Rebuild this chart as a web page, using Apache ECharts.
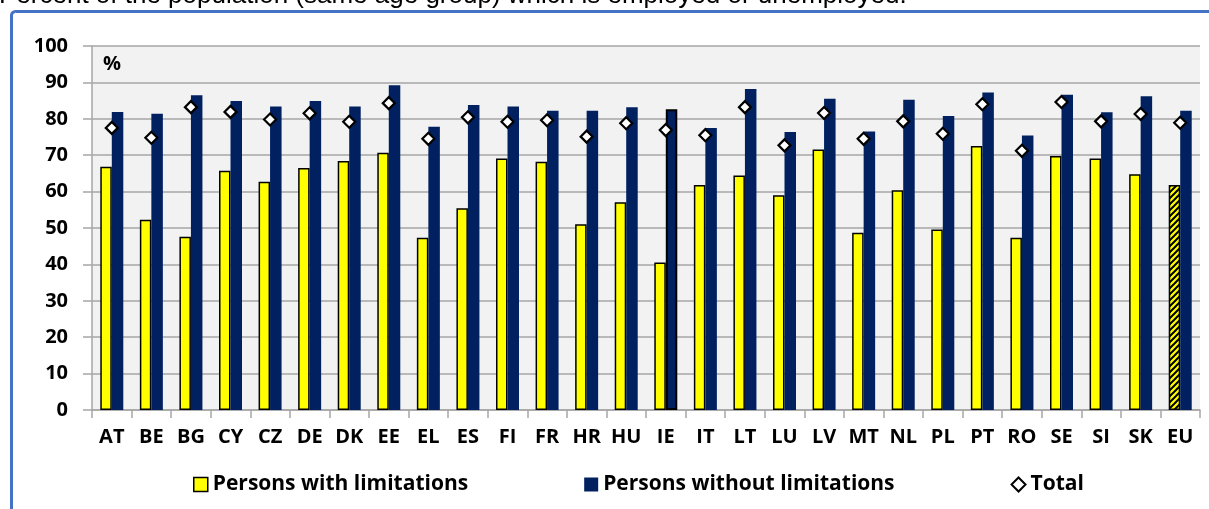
<!DOCTYPE html>
<html>
<head>
<meta charset="utf-8">
<script src="https://cdn.jsdelivr.net/npm/echarts@6/dist/echarts.min.js"></script>
<style>
html,body{margin:0;padding:0;background:#fff;}
#c{width:1209px;height:509px;}
</style>
</head>
<body>
<div id="c"></div>
<script>
const categories = ['AT','BE','BG','CY','CZ','DE','DK','EE','EL','ES','FI','FR','HR','HU','IE','IT','LT','LU','LV','MT','NL','PL','PT','RO','SE','SI','SK','EU'];
const withLimitations = [66.8,52.3,47.6,65.7,62.7,66.5,68.4,70.7,47.3,55.4,69.1,68.2,51.0,57.1,40.5,61.8,64.4,59.0,71.6,48.7,60.4,49.6,72.5,47.3,69.8,69.1,64.8,61.8];
const withoutLimitations = [81.9,81.4,86.5,84.9,83.4,84.9,83.4,89.2,77.8,83.8,83.4,82.2,82.2,83.2,82.6,77.5,88.2,76.4,85.5,76.5,85.2,80.8,87.2,75.4,86.6,81.8,86.2,82.2];
const totalValues = [77.5,74.8,83.2,81.9,79.8,81.5,79.2,84.3,74.5,80.4,79.2,79.6,75.1,78.8,76.9,75.5,83.2,72.7,81.6,74.5,79.3,75.9,84.0,71.2,84.6,79.3,81.3,78.9];
const yTicks = [0,10,20,30,40,50,60,70,80,90,100];
const seriesNames = ['Persons with limitations','Persons without limitations','Total'];
const titleText = 'Percent of the population (same age group) which is employed or unemployed.';
const unitLabel = '%';

const FONT = '"Open Sans", "DejaVu Sans", sans-serif';
const YELLOW = '#FFFF00', NAVY = '#002060';

// hatched pattern for EU bar
const pc = document.createElement('canvas');
pc.width = 6; pc.height = 6;
const g = pc.getContext('2d');
g.fillStyle = YELLOW; g.fillRect(0,0,6,6);
g.strokeStyle = '#000'; g.lineWidth = 2;
g.beginPath();
g.moveTo(-1,7); g.lineTo(7,-1);
g.moveTo(-4,4); g.lineTo(4,-4);
g.moveTo(2,10); g.lineTo(10,2);
g.stroke();

const yellowData = withLimitations.map((v,i) => categories[i] === 'EU'
  ? {value: v, itemStyle: {color: {image: pc, repeat: 'repeat'}}}
  : v);
const navyData = withoutLimitations.map((v,i) => categories[i] === 'IE'
  ? {value: v, itemStyle: {borderColor: '#000', borderWidth: 2}}
  : v);

const chart = echarts.init(document.getElementById('c'), null, {renderer: 'canvas'});
chart.setOption({
  animation: false,
  backgroundColor: '#fff',
  textStyle: {fontFamily: FONT},
  grid: {left: 92, right: 9, top: 46, bottom: 99, show: true, backgroundColor: '#F2F2F2', borderWidth: 0},
  graphic: [
    {type: 'rect', z: 0, silent: true, shape: {x: 11.5, y: 11.5, width: 1400, height: 700, r: 4},
     style: {fill: 'none', stroke: '#4472C4', lineWidth: 3}},
    {type: 'text', z: 10, left: -1, top: -17, silent: true,
     style: {text: titleText, font: '26px "Liberation Sans", Arial, sans-serif', fill: '#000'}},
    {type: 'text', z: 10, left: 103, top: 54, silent: true,
     style: {text: unitLabel, font: 'bold 20px ' + FONT, fill: '#000'}}
  ],
  legend: {
    left: 188, top: 469,
    itemWidth: 14, itemHeight: 14, itemGap: 116,
    textStyle: {fontFamily: FONT, fontWeight: 'bold', fontSize: 21, color: '#000'},
    data: [
      {name: seriesNames[0], icon: 'rect', itemStyle: {color: YELLOW, borderColor: '#000', borderWidth: 1.5}},
      {name: seriesNames[1], icon: 'rect', itemStyle: {color: NAVY}},
      {name: seriesNames[2], icon: 'diamond', itemStyle: {color: '#fff', borderColor: '#000', borderWidth: 2}}
    ]
  },
  xAxis: {
    type: 'category', data: categories,
    axisLine: {show: true, lineStyle: {color: '#A6A6A6', width: 1.5}},
    axisTick: {show: true, length: 8, lineStyle: {color: '#A6A6A6', width: 1.5}},
    axisLabel: {margin: 17, fontFamily: FONT, fontWeight: 'bold', fontSize: 20, color: '#000', interval: 0}
  },
  yAxis: {
    type: 'value', min: yTicks[0], max: yTicks[yTicks.length-1], interval: yTicks[1]-yTicks[0],
    axisLine: {show: true, lineStyle: {color: '#A6A6A6', width: 1.5}},
    axisTick: {show: true, length: 9, lineStyle: {color: '#A6A6A6', width: 1.5}},
    splitLine: {show: true, lineStyle: {color: '#A6A6A6', width: 1.5}},
    axisLabel: {margin: 24, fontFamily: FONT, fontWeight: 'bold', fontSize: 20, color: '#000'}
  },
  series: [
    {name: seriesNames[0], type: 'bar', data: yellowData, barWidth: 11.5, barGap: '0%',
     itemStyle: {color: YELLOW, borderColor: '#000', borderWidth: 1.5}},
    {name: seriesNames[1], type: 'bar', data: navyData, barWidth: 11.5, barGap: '0%',
     itemStyle: {color: NAVY}},
    {name: seriesNames[2], type: 'scatter', data: totalValues, symbol: 'diamond', symbolSize: 12, z: 5,
     itemStyle: {color: '#fff', borderColor: '#000', borderWidth: 2.2, opacity: 1}}
  ]
});
</script>
</body>
</html>
